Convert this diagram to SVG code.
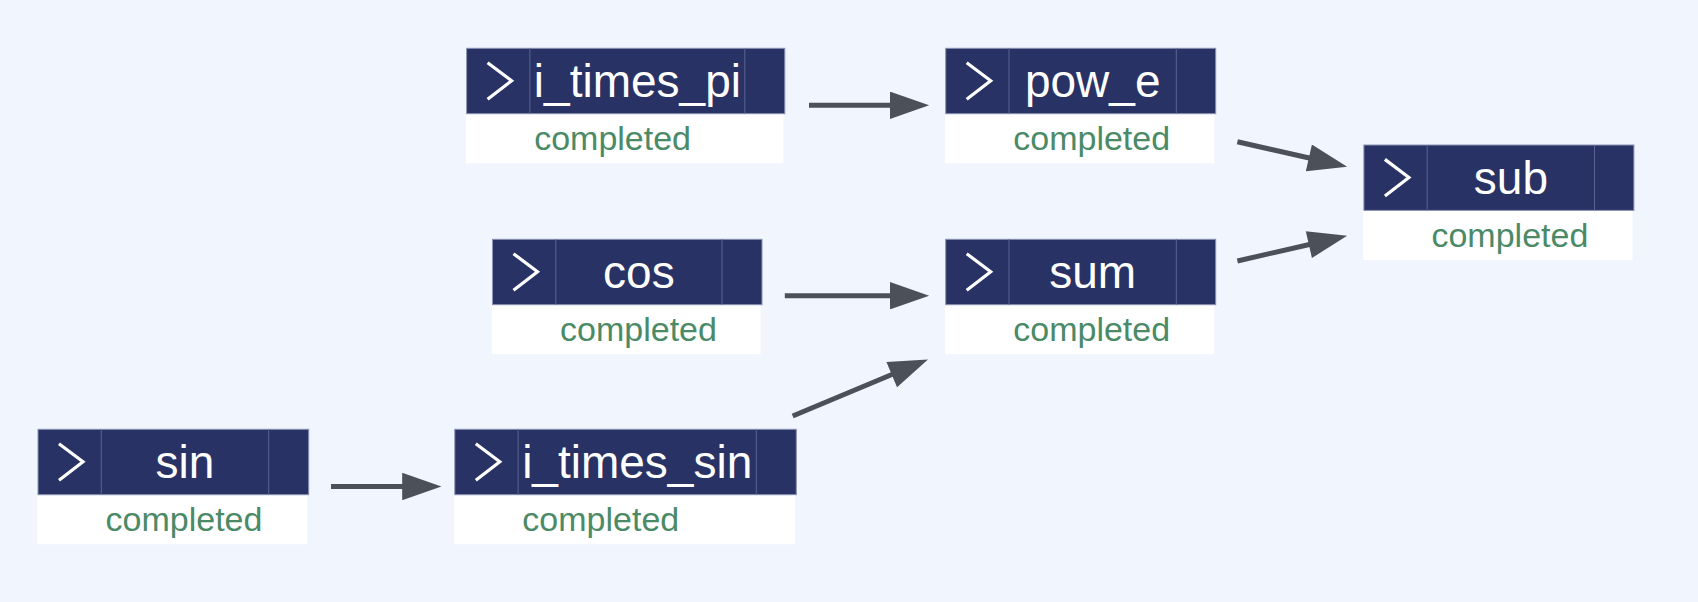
<svg xmlns="http://www.w3.org/2000/svg" width="1698" height="602" viewBox="0 0 1698 602">
<style>
.hdr{fill:#283264;stroke:#8a92b2;stroke-width:1}
.body{fill:#ffffff}
.div{stroke:#5b6491;stroke-width:1}
.chev{fill:none;stroke:#ffffff;stroke-width:3.2;stroke-linejoin:miter}
.name{font-family:"Liberation Sans",Arial,sans-serif;font-size:46px;fill:#ffffff;text-anchor:middle}
.status{font-family:"Liberation Sans",Arial,sans-serif;font-size:34px;fill:#4b8a67;text-anchor:middle}
.edge{stroke:#4c5059;stroke-width:5;fill:none}
</style>
<defs>
<marker id="arr" viewBox="0 0 10 7" refX="5" refY="3.5" markerWidth="8" markerHeight="5.5" markerUnits="strokeWidth" orient="auto">
<path d="M0,0 L10,3.5 L0,7 z" fill="#4c5059"/>
</marker>
</defs>
<rect x="0" y="0" width="1698" height="602" fill="#f0f5fe"/>
<g id="connectors">
<line class="edge" x1="809" y1="105.3" x2="909.5" y2="105.3" marker-end="url(#arr)"/>
<line class="edge" x1="784.8" y1="295.7" x2="909.5" y2="295.7" marker-end="url(#arr)"/>
<line class="edge" x1="331" y1="486.5" x2="421.8" y2="486.5" marker-end="url(#arr)"/>
<line class="edge" x1="792.7" y1="416" x2="909.85" y2="367" marker-end="url(#arr)"/>
<line class="edge" x1="1237.4" y1="141.7" x2="1328" y2="162.3" marker-end="url(#arr)"/>
<line class="edge" x1="1237.4" y1="261" x2="1328" y2="240.2" marker-end="url(#arr)"/>
</g>
<g id="node-sin" transform="translate(38,429.3)">
<rect class="body" x="-0.7" y="65.4" width="270" height="49.6"/>
<rect class="hdr" x="0" y="0" width="270.7" height="65.4"/>
<line class="div" x1="63.3" y1="0" x2="63.3" y2="65.4"/>
<line class="div" x1="230.7" y1="0" x2="230.7" y2="65.4"/>
<polyline class="chev" points="21,14.4 45,32.4 21,51"/>
<text class="name" x="147" y="49">sin</text>
<text class="status" x="146" y="101.7">completed</text>
</g>
<g id="node-i_times_sin" transform="translate(454.8,429.3)">
<rect class="body" x="-0.7" y="65.4" width="340.8" height="49.6"/>
<rect class="hdr" x="0" y="0" width="341.5" height="65.4"/>
<line class="div" x1="63.3" y1="0" x2="63.3" y2="65.4"/>
<line class="div" x1="301.5" y1="0" x2="301.5" y2="65.4"/>
<polyline class="chev" points="21,14.4 45,32.4 21,51"/>
<text class="name" x="182.4" y="49">i_times_sin</text>
<text class="status" x="146" y="101.7">completed</text>
</g>
<g id="node-i_times_pi" transform="translate(466.6,48.3)">
<rect class="body" x="-0.7" y="65.4" width="317.5" height="49.6"/>
<rect class="hdr" x="0" y="0" width="318.2" height="65.4"/>
<line class="div" x1="63.3" y1="0" x2="63.3" y2="65.4"/>
<line class="div" x1="278.2" y1="0" x2="278.2" y2="65.4"/>
<polyline class="chev" points="21,14.4 45,32.4 21,51"/>
<text class="name" x="170.8" y="49">i_times_pi</text>
<text class="status" x="146" y="101.7">completed</text>
</g>
<g id="node-pow_e" transform="translate(945.7,48.3)">
<rect class="body" x="-0.7" y="65.4" width="269.3" height="49.6"/>
<rect class="hdr" x="0" y="0" width="270" height="65.4"/>
<line class="div" x1="63.3" y1="0" x2="63.3" y2="65.4"/>
<line class="div" x1="230.6" y1="0" x2="230.6" y2="65.4"/>
<polyline class="chev" points="21,14.4 45,32.4 21,51"/>
<text class="name" x="147" y="49">pow_e</text>
<text class="status" x="146" y="101.7">completed</text>
</g>
<g id="node-cos" transform="translate(492.5,239.3)">
<rect class="body" x="-0.7" y="65.4" width="268.8" height="49.6"/>
<rect class="hdr" x="0" y="0" width="269.5" height="65.4"/>
<line class="div" x1="63.3" y1="0" x2="63.3" y2="65.4"/>
<line class="div" x1="229.5" y1="0" x2="229.5" y2="65.4"/>
<polyline class="chev" points="21,14.4 45,32.4 21,51"/>
<text class="name" x="146.4" y="49">cos</text>
<text class="status" x="146" y="101.7">completed</text>
</g>
<g id="node-sum" transform="translate(945.7,239.3)">
<rect class="body" x="-0.7" y="65.4" width="269.3" height="49.6"/>
<rect class="hdr" x="0" y="0" width="270" height="65.4"/>
<line class="div" x1="63.3" y1="0" x2="63.3" y2="65.4"/>
<line class="div" x1="230.6" y1="0" x2="230.6" y2="65.4"/>
<polyline class="chev" points="21,14.4 45,32.4 21,51"/>
<text class="name" x="147" y="49">sum</text>
<text class="status" x="146" y="101.7">completed</text>
</g>
<g id="node-sub" transform="translate(1363.9,145)">
<rect class="body" x="-0.7" y="65.4" width="269.3" height="49.6"/>
<rect class="hdr" x="0" y="0" width="270" height="65.4"/>
<line class="div" x1="63.3" y1="0" x2="63.3" y2="65.4"/>
<line class="div" x1="230.6" y1="0" x2="230.6" y2="65.4"/>
<polyline class="chev" points="21,14.4 45,32.4 21,51"/>
<text class="name" x="147" y="49">sub</text>
<text class="status" x="146" y="101.7">completed</text>
</g>
</svg>
